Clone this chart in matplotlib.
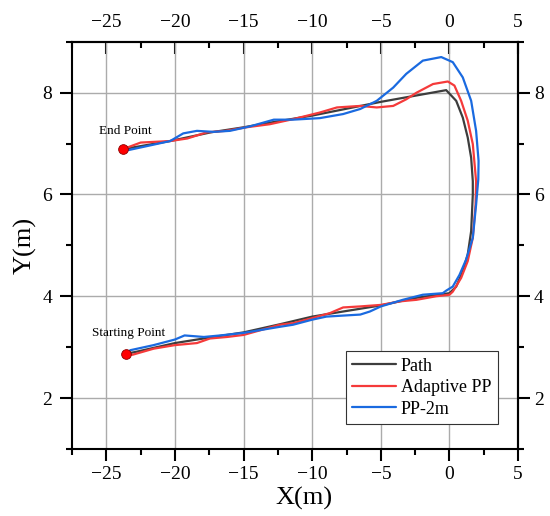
import numpy as np
from matplotlib import pyplot as plt
from matplotlib.ticker import MultipleLocator

plt.rcParams['font.family'] = ['Liberation Serif', 'DejaVu Serif']
plt.rcParams['axes.unicode_minus'] = True

# reference path (lower branch -> turn -> upper branch)
path_x = [-23.55, -22.8, -20.0, -17.45, -15.0, -12.35, -10.0, -7.75, -5.0, -2.4, 0.0, 0.49,
          0.97, 1.33, 1.58, 1.7, 1.7, 1.58, 1.33, 0.97, 0.49, -0.24, -5.0, -10.0, -13.1,
          -15.0, -17.4, -20.35, -23.8]
path_y = [2.87, 2.91, 3.08, 3.19, 3.29, 3.45, 3.6, 3.7, 3.82, 3.97, 4.06, 4.19,
          4.49, 4.82, 5.28, 6.0, 6.26, 6.72, 7.12, 7.51, 7.84, 8.05, 7.82, 7.55, 7.41,
          7.32, 7.22, 7.05, 6.89]

adaptive_x = [-23.55, -23.1, -21.55, -20.0, -18.4, -17.45, -16.2, -15.0, -12.35, -11.4, -10.0,
              -8.7, -7.75, -6.5, -5.0, -3.6, -2.4, -0.97, 0.0, 0.24, 0.85, 1.33, 1.7, 1.9,
              1.94, 1.7, 1.33, 0.85, 0.36, -0.12, -1.2, -2.4, -3.15, -4.1, -5.3, -6.5,
              -8.2, -9.45, -11.4, -13.1, -14.8, -16.3, -17.7, -19.1, -20.35, -22.5, -23.8]
adaptive_y = [2.87, 2.85, 2.97, 3.04, 3.08, 3.17, 3.2, 3.24, 3.44, 3.47, 3.57,
              3.67, 3.78, 3.8, 3.83, 3.9, 3.93, 4.0, 4.03, 4.09, 4.36, 4.69, 5.15, 5.8,
              6.26, 6.99, 7.45, 7.84, 8.14, 8.22, 8.17, 8.0, 7.87, 7.74, 7.71, 7.74,
              7.71, 7.61, 7.48, 7.38, 7.32, 7.25, 7.22, 7.1, 7.05, 7.02, 6.89]

pp2m_x = [-23.55, -23.25, -21.55, -20.0, -19.3, -17.9, -16.7, -15.0, -12.35, -11.4, -10.0,
          -8.97, -7.75, -6.5, -5.8, -5.0, -3.4, -1.94, -0.49, -0.24, 0.24, 0.73, 1.21, 1.7,
          1.94, 2.1, 2.12, 1.94, 1.58, 0.97, 0.24, -0.6, -1.94, -3.15, -4.1, -5.3, -6.5,
          -7.75, -9.45, -11.4, -12.8, -14.5, -16.0, -17.2, -18.4, -19.4, -20.35, -22.05,
          -23.6]
pp2m_y = [2.87, 2.94, 3.04, 3.15, 3.23, 3.2, 3.23, 3.28, 3.4, 3.44, 3.54,
          3.6, 3.62, 3.64, 3.7, 3.8, 3.93, 4.03, 4.06, 4.11, 4.19, 4.42, 4.72, 5.15,
          5.8, 6.3, 6.66, 7.25, 7.84, 8.3, 8.6, 8.7, 8.63, 8.37, 8.1, 7.84, 7.68,
          7.58, 7.5, 7.47, 7.47, 7.34, 7.25, 7.23, 7.25, 7.2, 7.05, 6.95,
          6.86]

start_pt = (-23.55, 2.87)
end_pt = (-23.8, 6.89)

fig = plt.figure(figsize=(5.5, 5.16), dpi=100)
ax = fig.add_axes([0.131, 0.130, 0.811, 0.789])

kw = dict(lw=1.6, solid_joinstyle='round', solid_capstyle='round')
ax.plot(path_x, path_y, color='#3d3d3d', label='Path', zorder=3, **kw)
ax.plot(adaptive_x, adaptive_y, color='#f53a3a', label='Adaptive PP', zorder=4, **kw)
ax.plot(pp2m_x, pp2m_y, color='#1a6ae0', label='PP-2m', zorder=5, **kw)

for p in (start_pt, end_pt):
    ax.plot(p[0], p[1], 'o', color='#ff0000', mec='#8b0000', mew=0.6, ms=7, zorder=6)
ax.text(-23.35, 3.27, 'Starting Point', fontsize=9.5, ha='center', va='center')
ax.text(-23.6, 7.25, 'End Point', fontsize=9.5, ha='center', va='center')

ax.set_xlim(-27.5, 5)
ax.set_ylim(1, 9)
ax.xaxis.set_major_locator(MultipleLocator(5))
ax.xaxis.set_minor_locator(MultipleLocator(2.5))
ax.yaxis.set_major_locator(MultipleLocator(2))
ax.yaxis.set_minor_locator(MultipleLocator(1))
ax.grid(True, which='major', color='#ababab', lw=1.0)
ax.set_axisbelow(True)

ax.tick_params(which='both', right=False, top=False,
               width=1.5, labelsize=14, direction='out')
ax.tick_params(which='major', length=8.5)
ax.tick_params(which='minor', length=4.5)
ax.tick_params(axis='y', which='major', pad=6)

# top axis: same scale, ticks pointing inward
top = ax.secondary_xaxis('top')
top.xaxis.set_major_locator(MultipleLocator(5))
top.xaxis.set_minor_locator(MultipleLocator(2.5))
top.tick_params(which='both', direction='in', width=1.5, labelsize=14, pad=8)
top.tick_params(which='major', length=8.5)
top.tick_params(which='minor', length=4.5)
top.spines['top'].set_linewidth(1.5)

# right axis: ticks outward, labels close
right = ax.secondary_yaxis('right')
right.yaxis.set_major_locator(MultipleLocator(2))
right.yaxis.set_minor_locator(MultipleLocator(1))
right.tick_params(which='both', direction='out', width=1.5, labelsize=14, pad=3)
right.tick_params(which='major', length=8.5)
right.tick_params(which='minor', length=4.5)
right.spines['right'].set_linewidth(1.5)

for a in (ax.xaxis, ax.yaxis, top.xaxis, right.yaxis):
    a.offsetText.set_visible(False)
top.xaxis.label.set_visible(False)
right.yaxis.label.set_visible(False)

for sp in ax.spines.values():
    sp.set_linewidth(1.5)

ax.set_xlabel('X(m)', fontsize=19)
ax.xaxis.set_label_coords(0.52, -0.093)
ax.set_ylabel('Y(m)', fontsize=19, labelpad=4)

leg = ax.legend(loc='lower left', bbox_to_anchor=(0.614, 0.061), borderaxespad=0,
                fontsize=13, fancybox=False, framealpha=1, edgecolor='#333333',
                handlelength=2.4, labelspacing=0.25, borderpad=0.35, handletextpad=0.3)
leg.get_frame().set_linewidth(0.8)

plt.savefig('out.png', dpi=100)
